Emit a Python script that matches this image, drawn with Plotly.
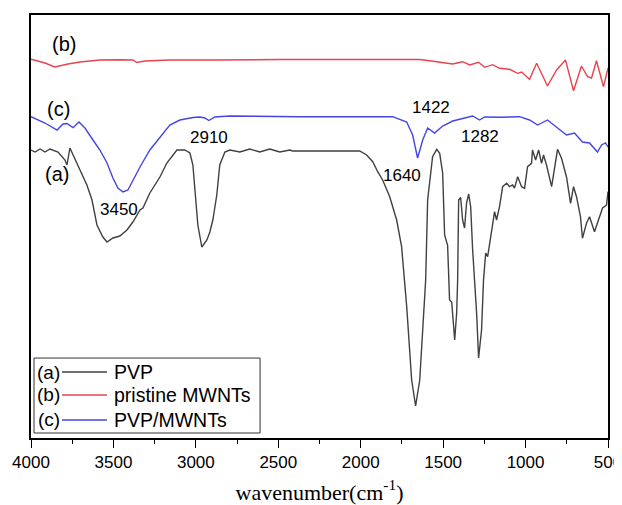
import plotly.graph_objects as go

# ---------------- data (wavenumber in cm-1, transmittance in a.u.) ----------------
wn_a = [4000, 3976, 3945, 3915, 3885, 3855, 3836, 3794, 3782, 3764, 3745, 3703, 3661, 3630,
        3600, 3564, 3539, 3503, 3461, 3418, 3382, 3339, 3321, 3279, 3218, 3176, 3139, 3115,
        3067, 3036, 3018, 3000, 2988, 2964, 2933, 2915, 2897, 2873, 2855, 2824, 2794, 2733,
        2673, 2612, 2552, 2491, 2430, 2412, 2006, 1964, 1927, 1897, 1867, 1824, 1782, 1752,
        1733, 1721, 1691, 1667, 1642, 1624, 1606, 1594, 1582, 1564, 1539, 1521, 1503, 1491,
        1479, 1473, 1461, 1448, 1430, 1418, 1412, 1406, 1394, 1382, 1370, 1358, 1345, 1333,
        1321, 1309, 1297, 1285, 1267, 1255, 1242, 1230, 1206, 1188, 1176, 1158, 1139, 1115,
        1097, 1079, 1067, 1048, 1024, 1006, 988, 964, 958, 939, 921, 903, 891, 873, 842,
        824, 806, 782, 752, 727, 709, 691, 667, 655, 630, 612, 600, 582, 564, 533, 509, 500]
t_a = [288, 286, 289, 286, 289, 287, 286, 278, 273, 290, 283, 268, 253, 238,
       213, 201, 196, 200, 202, 208, 216, 228, 230, 245, 261, 275, 283, 288,
       288, 285, 273, 238, 213, 191, 198, 206, 218, 243, 273, 286, 288, 286,
       289, 286, 289, 286, 288, 287, 287, 283, 276.3, 266.3, 258, 241.3, 218, 191.3,
       151.3, 131.3, 58, 32, 58, 108, 158, 238, 258, 281.3, 288.7, 284.7, 265, 203,
       196, 193, 138, 136, 98, 125, 158, 238, 240.7, 218, 210, 235, 244, 231.3,
       188, 158, 125, 80, 108, 158, 185, 181.3, 205, 226.3, 218, 231.3, 251.3, 254.7,
       251.3, 253, 250, 261.3, 251.3, 249.7, 271.3, 274.7, 288, 278, 288, 274.7, 283, 273, 251.3,
       271.3, 288.7, 279.7, 261.3, 234.7, 251.3, 241.3, 221.3, 199.7, 215, 221.3, 215, 206.3, 215, 230, 233, 246.3]

wn_b = [4000, 3915, 3855, 3812, 3776, 3703, 3582, 3461, 3382, 3358, 3309, 3158, 2915, 2885,
        2500, 2006, 1964, 1824, 1642, 1539, 1442, 1382, 1339, 1285, 1248, 1200, 1158, 1097,
        1048, 1024, 976, 933, 867, 812, 758, 709, 661, 624, 600, 570, 527, 500]
t_b = [378.7, 375, 371, 373, 374, 376, 378, 378.3, 378, 375.5, 377, 378, 377.5, 378,
       378.5, 378.7, 378, 378.5, 378.5, 376.3, 374, 376.3, 373, 375.7, 370.7, 373.3, 369.7, 368.7,
       364.7, 366, 358.7, 374.7, 352, 368, 378, 347.3, 372, 361.3, 360, 377.3, 351.3, 370]

wn_c = [4000, 3915, 3842, 3806, 3782, 3745, 3709, 3673, 3624, 3582, 3539, 3503, 3473, 3442,
        3412, 3382, 3339, 3279, 3218, 3158, 3097, 3018, 2976, 2945, 2921, 2885, 2794, 2370,
        1806, 1721, 1685, 1655, 1624, 1594, 1552, 1503, 1442, 1358, 1321, 1279, 1248, 1158,
        1036, 976, 927, 867, 812, 752, 703, 655, 612, 564, 539, 515, 500]
t_c = [321.3, 315, 308, 314, 314.5, 310.3, 316, 310, 298, 288, 275, 260, 250, 246,
       248, 258, 271, 288, 301, 313, 318, 320.5, 321, 320, 317.5, 321, 322, 321.3,
       321.3, 316, 303, 280, 298, 310, 305, 312, 317, 321, 322, 318, 321, 320.7,
       321.3, 318, 313, 318, 311, 303, 305, 296, 295, 286, 293, 295, 291]

series_names = ["PVP", "pristine MWNTs", "PVP/MWNTs"]
series_tags = ["(a)", "(b)", "(c)"]
series_colors = ["#404040", "#e8434f", "#4545e6"]

peak_labels = ["3450", "2910", "1640", "1422", "1282"]
peak_x = [3467, 2921, 1752, 1576, 1279]
peak_y = [229, 301, 263, 331, 302]

tag_x = [3842, 3800, 3836]
tag_y = [264, 394, 329]

x_ticks = [4000, 3500, 3000, 2500, 2000, 1500, 1000, 500]

# ---------------- figure ----------------
fig = go.Figure()
for wn, t, name, col in zip([wn_a, wn_b, wn_c], [t_a, t_b, t_c], series_names, series_colors):
    fig.add_trace(go.Scatter(x=wn, y=t, mode="lines", name=name,
                             line=dict(color=col, width=1.4), showlegend=False))

font_main = "Liberation Sans, Arial, sans-serif"

# curve tags
for tag, x, y in zip(series_tags, tag_x, tag_y):
    fig.add_annotation(x=x, y=y, xref="x", yref="y", text=tag, showarrow=False,
                       xanchor="center", yanchor="middle",
                       font=dict(family=font_main, size=20, color="black"))

# peak labels
for lab, x, y in zip(peak_labels, peak_x, peak_y):
    fig.add_annotation(x=x, y=y, xref="x", yref="y", text=lab, showarrow=False,
                       xanchor="center", yanchor="middle",
                       font=dict(family=font_main, size=17, color="black"))

# custom legend (tag, line sample, label) inside a box
fig.add_shape(type="rect", xref="paper", yref="paper", x0=0.0052, x1=0.397, y0=0.0118, y1=0.189,
              line=dict(color="#333333", width=1), fillcolor="white", layer="above")
row_y = [0.156, 0.1017, 0.0426]
for tag, name, col, ry in zip(series_tags, series_names, series_colors, row_y):
    fig.add_shape(type="line", xref="paper", yref="paper", x0=0.0537, x1=0.1317, y0=ry, y1=ry,
                  line=dict(color=col, width=1.4), layer="above")
    fig.add_annotation(x=0.0537, y=ry, xref="paper", yref="paper", text=tag, showarrow=False,
                       xanchor="right", yanchor="middle",
                       font=dict(family=font_main, size=19, color="black"))
    fig.add_annotation(x=0.141, y=ry, xref="paper", yref="paper", text=name, showarrow=False,
                       xanchor="left", yanchor="middle",
                       font=dict(family=font_main, size=19.5, color="black"))

# page body has an 8 px margin, so the figure is 8 px smaller and margins shifted
fig.update_layout(
    width=614, height=497,
    margin=dict(l=23, r=14, t=7, b=67),
    paper_bgcolor="white", plot_bgcolor="white",
    showlegend=False,
    xaxis=dict(range=[4000, 500], tickvals=x_ticks, ticks="outside", ticklen=8, tickwidth=1.2,
               tickcolor="black", showline=True, linecolor="black", linewidth=1.5, mirror=True,
               showgrid=False, zeroline=False, automargin=False, ticklabeloverflow="allow",
               tickfont=dict(family=font_main, size=17, color="black"),
               minor=dict(dtick=250, ticks="outside", ticklen=4, tickcolor="black", tickwidth=1.2),
               title=dict(text="wavenumber(cm<sup>-1</sup>)", standoff=13,
                          font=dict(family="Liberation Serif, Times New Roman, serif", size=22,
                                    color="black"))),
    yaxis=dict(range=[0, 423], showticklabels=False, ticks="", showline=True, linecolor="black",
               linewidth=1.5, mirror=True, showgrid=False, zeroline=False, automargin=False),
)

fig.write_html("out.html")
